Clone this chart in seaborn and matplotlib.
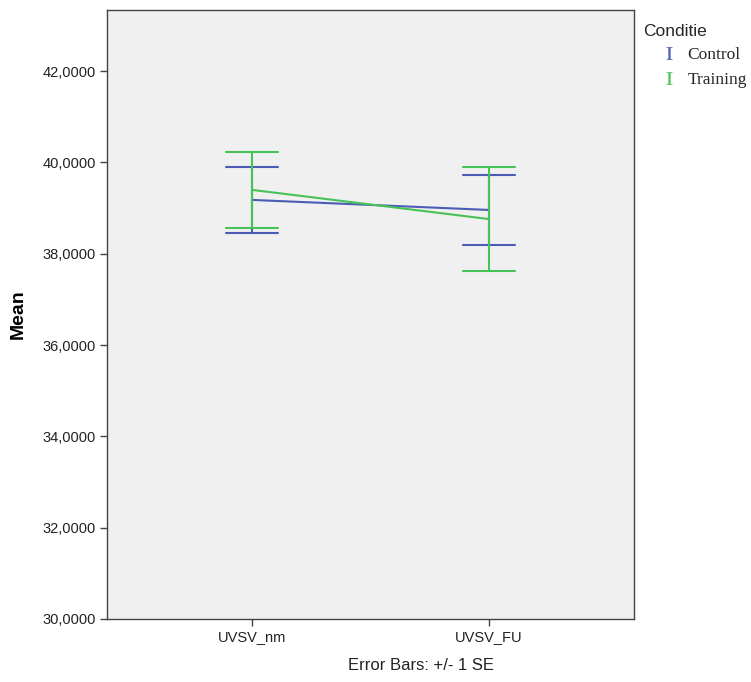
import numpy as np
import pandas as pd
import matplotlib
matplotlib.use("Agg")
import matplotlib.pyplot as plt
import seaborn as sns
from matplotlib.lines import Line2D
from matplotlib.ticker import FuncFormatter

# ---- data ----
measures = ["UVSV_nm", "UVSV_FU"]
groups = ["Control", "Training"]
control_mean = [39.18, 38.96]
control_se = [0.715, 0.775]
training_mean = [39.40, 38.76]
training_se = [0.835, 1.14]
colors = ["#4a5cb4", "#47c257"]

rows = []
for g, means, ses in [("Control", control_mean, control_se),
                      ("Training", training_mean, training_se)]:
    for m, mu, se in zip(measures, means, ses):
        for v in (mu - se, mu, mu + se):
            rows.append({"measure": m, "Conditie": g, "value": v})
df = pd.DataFrame(rows)

sns.set_theme(style="white")
plt.rcParams["font.family"] = ["Liberation Sans", "DejaVu Sans"]
plt.rcParams["mathtext.fontset"] = "stix"

fig = plt.figure(figsize=(7.51, 6.82), dpi=100)
ax = fig.add_axes([107 / 751, 63 / 682, 527 / 751, 609 / 682])
ax.set_facecolor("#f0f0f0")

sns.pointplot(data=df, x="measure", y="value", hue="Conditie",
              order=measures, hue_order=groups, palette=colors,
              estimator=np.median, errorbar=lambda v: (v.min(), v.max()),
              capsize=0.22, dodge=False, markers="", linestyles="-",
              err_kws={"linewidth": 1.5}, linewidth=1.5, ax=ax, legend=False)

ax.set_xlim(-0.612, 1.612)
ax.set_ylim(30, 43.34)
ax.set_yticks([30, 32, 34, 36, 38, 40, 42])
ax.yaxis.set_major_formatter(FuncFormatter(lambda v, p: f"{v:.4f}".replace(".", ",")))
ax.tick_params(axis="both", direction="out", length=5, width=1, colors="#444444",
               labelsize=10.5, labelcolor="#222222", left=True, bottom=True, pad=3)
for s in ax.spines.values():
    s.set_color("#444444")
    s.set_linewidth(1)
ax.set_xlabel("")
ax.set_ylabel("")
fig.text(18 / 751, 1 - 314 / 682, "Mean", rotation=90, ha="center", va="center",
         fontsize=14, fontweight="bold", color="black")

fig.text(421 / 751, 17 / 682, "Error Bars: +/- 1 SE", ha="center", va="center",
         fontsize=12, color="#222222")

handles = [Line2D([], [], linestyle="none", marker=r"$\mathrm{I}$", markersize=9,
                  markeredgewidth=0.2, color=c) for c in colors]
leg = fig.legend(handles, groups, loc="upper left",
                 bbox_to_anchor=(628 / 751, 1 - 8 / 682),
                 frameon=False, title="Conditie", handlelength=2.87, handletextpad=-0.35,
                 labelspacing=0.5, borderpad=0.4,
                 prop={"family": "Liberation Serif", "size": 12.5},
                 title_fontproperties={"family": "Liberation Sans", "size": 12.5})
leg._legend_box.align = "left"

fig.savefig("out.png", dpi=100)
